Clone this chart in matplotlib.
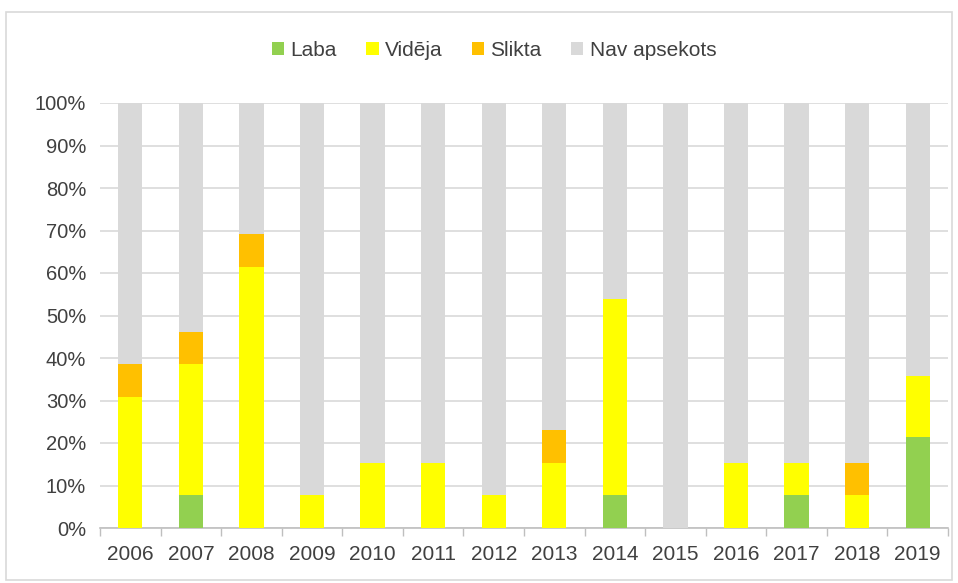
import matplotlib
matplotlib.use("Agg")
import matplotlib.pyplot as plt
from matplotlib.patches import Rectangle
import numpy as np

years = ["2006", "2007", "2008", "2009", "2010", "2011", "2012", "2013",
         "2014", "2015", "2016", "2017", "2018", "2019"]
laba =   [0.0, 7.7, 0.0, 0.0, 0.0, 0.0, 0.0, 0.0, 7.7, 0.0, 0.0, 7.7, 0.0, 21.4]
videja = [30.8, 30.8, 61.5, 7.7, 15.4, 15.4, 7.7, 15.4, 46.2, 0.0, 15.4, 7.7, 7.7, 14.3]
slikta = [7.7, 7.7, 7.7, 0.0, 0.0, 0.0, 0.0, 7.7, 0.0, 0.0, 0.0, 0.0, 7.7, 0.0]
nav = [100 - a - b - c for a, b, c in zip(laba, videja, slikta)]

series = [("Laba", laba, "#92D050"), ("Vidēja", videja, "#FFFF00"),
          ("Slikta", slikta, "#FFC000"), ("Nav apsekots", nav, "#D9D9D9")]

plt.rcParams['font.family'] = ['Liberation Sans', 'DejaVu Sans']
fig = plt.figure(figsize=(9.58, 5.83), dpi=100)
fig.patches.append(Rectangle((6/958, 3/583), 946/958, 568/583, transform=fig.transFigure,
                             fill=False, edgecolor="#D9D9D9", linewidth=1.2))
ax = fig.add_axes([100/958, 1 - 528/583, 848/958, 425/583])

x = np.arange(len(years))
bottom = np.zeros(len(years))
handles = []
for name, vals, col in series:
    h = ax.bar(x, vals, 0.4, bottom=bottom, color=col, label=name, zorder=3)
    handles.append(h)
    bottom += np.array(vals)

ax.set_xlim(-0.5, len(years) - 0.5)
ax.set_ylim(0, 100)
ax.set_yticks(np.arange(0, 101, 10))
ax.set_yticklabels([f"{v}%" for v in range(0, 101, 10)], fontsize=14.5, color="#404040")
ax.set_xticks(x)
ax.set_xticklabels(years, fontsize=15, color="#404040")
ax.tick_params(axis='y', length=0, pad=10)
ax.tick_params(axis='x', which='major', length=0, pad=12)
ax.set_xticks(np.arange(-0.5, len(years)), minor=True)
ax.tick_params(axis='x', which='minor', length=6, color="#BFBFBF", width=1)
ax.yaxis.grid(True, color="#D9D9D9", linewidth=1.2, zorder=0)
for s in ["top", "right", "left"]:
    ax.spines[s].set_visible(False)
ax.spines["bottom"].set_color("#BFBFBF")
ax.spines["bottom"].set_linewidth(1.2)

fig.legend(handles=handles, loc="center", bbox_to_anchor=(494/958, 1 - 50/583), ncol=4,
           frameon=False, fontsize=15, handlelength=0.6, handleheight=0.6,
           handletextpad=0.3, columnspacing=1.4, labelcolor="#404040")

fig.savefig("out.png", dpi=100)
